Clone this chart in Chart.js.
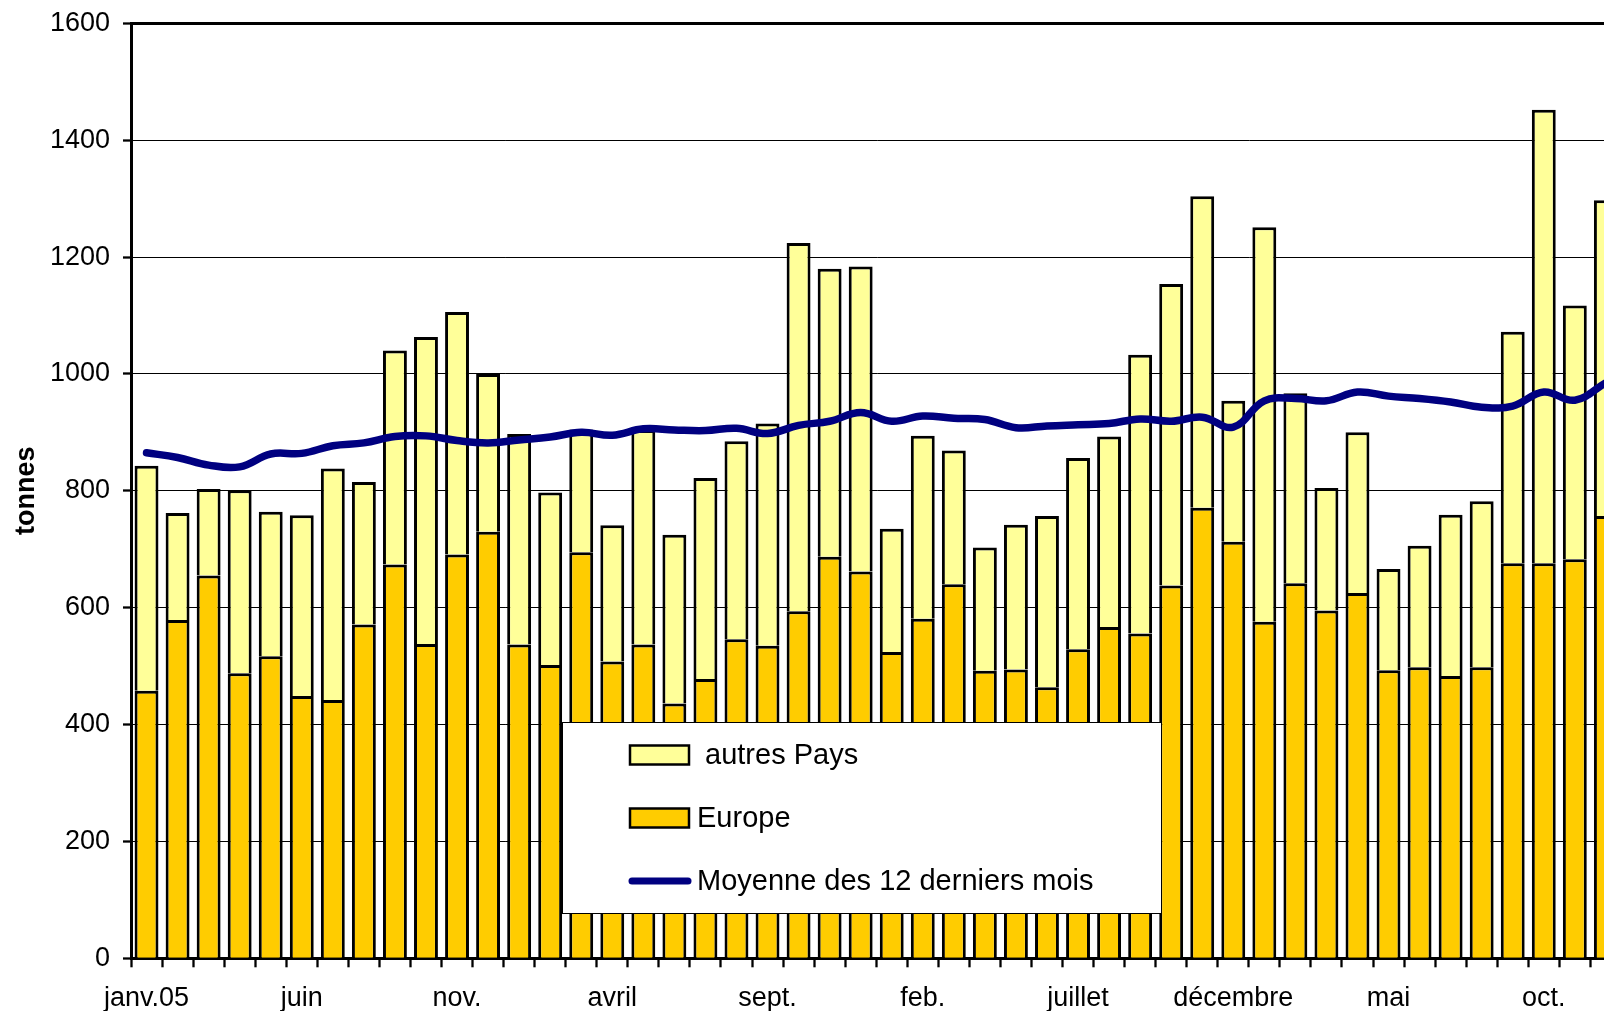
<!DOCTYPE html>
<html lang="fr">
<head>
<meta charset="utf-8">
<title>tonnes</title>
<script src="https://cdn.jsdelivr.net/npm/chart.js@4.4.1/dist/chart.umd.min.js"></script>
<style>
	html, body { margin: 0; padding: 0; background: #fff; overflow: hidden; }
	#wrap { width: 1640px; height: 1011px; }
</style>
</head>
<body>
<div id="wrap"><canvas id="chart" width="1640" height="1011"></canvas></div>
<script>
// one label per month, only every 5th is shown on the axis
const MONTHS = [
	'janv.05', 'feb.', 'mars', 'avril', 'mai', 'juin', 'juillet', 'août', 'sept.', 'oct.', 'nov.', 'décembre',
	'janv.06', 'feb.', 'mars', 'avril', 'mai', 'juin', 'juillet', 'août', 'sept.', 'oct.', 'nov.', 'décembre',
	'janv.07', 'feb.', 'mars', 'avril', 'mai', 'juin', 'juillet', 'août', 'sept.', 'oct.', 'nov.', 'décembre',
	'janv.08', 'feb.', 'mars', 'avril', 'mai', 'juin', 'juillet', 'août', 'sept.', 'oct.', 'nov.', 'décembre',
];

const EUROPE = [
	458, 579, 655, 488, 517, 449, 442, 571, 674, 538, 691, 730,
	537, 502, 695, 508, 537, 436, 478, 546, 535, 594, 687, 662,
	524, 581, 640, 492, 494, 464, 529, 567, 556, 638, 771, 713,
	576, 642, 595, 625, 493, 498, 483, 498, 676, 676, 683, 757,
];

const AUTRES = [
	385, 183, 148, 313, 247, 309, 396, 244, 366, 525, 415, 270,
	360, 295, 210, 233, 367, 289, 344, 339, 380, 630, 493, 522,
	211, 313, 229, 211, 248, 293, 327, 326, 477, 516, 533, 241,
	675, 325, 210, 275, 173, 208, 276, 284, 396, 776, 434, 540,
];

const MOYENNE = [
	865, 857, 844, 841, 863, 864, 877, 882, 893, 894, 886, 882,
	887, 892, 900, 895, 906, 904, 903, 907, 898, 912, 919, 934,
	919, 928, 924, 922, 908, 911, 913, 915, 923, 919, 926, 909,
	954, 958, 954, 969, 962, 958, 952, 943, 945, 969, 955, 985,
];

const FONT = "'Liberation Sans', Arial, sans-serif";
const C_EUROPE = '#FFCC00';
const C_AUTRES = '#FFFF99';
const C_LINE = '#000080';

// legend box drawn inside the plot, like the spreadsheet original
const LEGEND_BOX = { left: 562, top: 722, right: 1161, bottom: 913 };
const LEGEND_ORDER = [1, 0, 2];

const boxLegend = {
	id: 'boxLegend',
	afterDatasetsDraw(chart) {
		const { ctx } = chart;
		const b = LEGEND_BOX;
		ctx.save();
		ctx.fillStyle = '#fff';
		ctx.fillRect(b.left, b.top, b.right - b.left, b.bottom - b.top);
		ctx.strokeStyle = '#000';
		ctx.lineWidth = 1;
		ctx.strokeRect(b.left + 0.5, b.top + 0.5, b.right - b.left, b.bottom - b.top);

		ctx.font = `29px ${FONT}`;
		ctx.textBaseline = 'middle';
		ctx.textAlign = 'left';
		LEGEND_ORDER.forEach((di, row) => {
			const ds = chart.data.datasets[di];
			const y = 755 + row * 63;
			if (ds.type === 'line') {
				ctx.strokeStyle = ds.borderColor;
				ctx.lineWidth = 7;
				ctx.lineCap = 'round';
				ctx.beginPath();
				ctx.moveTo(632, y);
				ctx.lineTo(688, y);
				ctx.stroke();
			} else {
				ctx.fillStyle = ds.backgroundColor;
				ctx.fillRect(630, y - 9.5, 59, 19);
				ctx.strokeStyle = '#000';
				ctx.lineWidth = 2.5;
				ctx.strokeRect(630, y - 9.5, 59, 19);
			}
			ctx.fillStyle = '#000';
			ctx.fillText(ds.label, 697, y + 1);
		});
		ctx.restore();
	},
};

Chart.defaults.font.family = FONT;
Chart.defaults.color = '#000';

new Chart(document.getElementById('chart'), {
	type: 'bar',
	data: {
		labels: MONTHS,
		datasets: [
			{
				label: 'Europe',
				data: EUROPE,
				backgroundColor: C_EUROPE,
				borderColor: '#000',
				borderWidth: 3,
				borderSkipped: 'bottom',
				stack: 's',
				order: 1,
			},
			{
				label: ' autres Pays',
				data: AUTRES,
				backgroundColor: C_AUTRES,
				borderColor: '#000',
				borderWidth: 3,
				borderSkipped: 'bottom',
				stack: 's',
				order: 1,
			},
			{
				type: 'line',
				label: 'Moyenne des 12 derniers mois',
				data: MOYENNE,
				borderColor: C_LINE,
				borderWidth: 7.5,
				borderCapStyle: 'round',
				tension: 0.4,
				pointRadius: 0,
				fill: false,
				order: 0,
			},
		],
	},
	options: {
		responsive: false,
		devicePixelRatio: 1,
		animation: false,
		categoryPercentage: 1,
		barPercentage: 0.77,
		layout: { padding: { left: 0, top: 23.3, right: 18.6, bottom: 0 } },
		plugins: {
			legend: { display: false },
			tooltip: { enabled: false },
		},
		scales: {
			x: {
				stacked: true,
				offset: true,
				grid: {
					offset: true,
					drawOnChartArea: false,
					drawTicks: true,
					tickLength: 9,
					tickWidth: 2.3,
					tickColor: '#000',
				},
				border: { display: true, color: '#000', width: 3 },
				ticks: {
					autoSkip: false,
					maxRotation: 0,
					padding: 15,
					font: { size: 27 },
					callback(value, i) {
						return i % 5 === 0 ? this.getLabelForValue(value) : '';
					},
				},
				afterFit(scale) { scale.height = 1011 - 958.3; },
			},
			y: {
				stacked: true,
				min: 0,
				max: 1600,
				ticks: {
					stepSize: 200,
					padding: 13,
					font: { size: 27 },
					callback: (v) => String(v),
				},
				grid: {
					color: '#000',
					lineWidth: (ctx) => (ctx.tick && ctx.tick.value === 1600 ? 3 : 1),
					tickLength: 8,
					tickWidth: 2.3,
					tickColor: '#000',
				},
				border: { display: true, color: '#000', width: 3 },
				title: {
					display: true,
					text: 'tonnes',
					font: { size: 27, weight: 'bold', lineHeight: 1.2 },
					padding: { top: 10, bottom: 0 },
				},
				afterFit(scale) {
					scale.width = 131;
					// let the layout padding decide where the plot starts
					scale.paddingTop = 0;
					scale.paddingBottom = 0;
				},
			},
		},
	},
	plugins: [boxLegend],
});
</script>
</body>
</html>
